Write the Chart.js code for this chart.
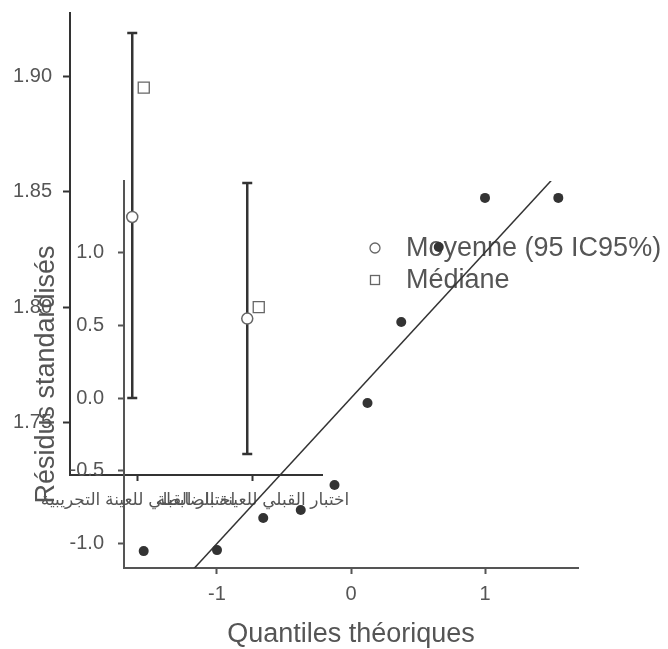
<!DOCTYPE html>
<html>
<head>
<meta charset="utf-8">
<script src="https://cdn.jsdelivr.net/npm/chart.js@4"></script>
<style>
  body { margin: 0; background: #fff; }
  #wrap { position: relative; width: 668px; height: 649px; }
  canvas { position: absolute; left: 0; top: 0; }
</style>
</head>
<body>
<div id="wrap">
  <canvas id="descChart" width="668" height="649"></canvas>
  <canvas id="qqChart" width="668" height="649"></canvas>
</div>
<script>
// descriptive plot (two groups)
const groups = ['اختبار القبلي للعينة التجريبية', 'اختبار القبلي للعينة الضابطة'];
const means = [1.839, 1.795];
const ciLow = [1.7606, 1.7364];
const ciHigh = [1.9186, 1.8537];
const medians = [1.895, 1.800];
const descTicks = [1.75, 1.80, 1.85, 1.90];

// Q-Q plot of residuals
const theoQuantiles = [-1.547, -1.0, -0.655, -0.375, -0.123, 0.123, 0.375, 0.655, 1.0, 1.547];
const stdResiduals = [-1.052, -1.045, -0.825, -0.770, -0.598, -0.034, 0.522, 1.038, 1.375, 1.375];
const qqXTicks = [-1, 0, 1];
const qqYTicks = [-1.0, -0.5, 0.0, 0.5, 1.0];

const FONT = "'Liberation Sans', 'DejaVu Sans', Arial, sans-serif";
const txt = '#555';
const dark = '#333';

Chart.defaults.font.family = FONT;
Chart.defaults.animation = false;

const useTicks = list => scale => { scale.ticks = list.map(v => ({value: v})); };
// fixed axis size, no extra room for edge labels
const fixW = w => s => { s.width = w; s.paddingTop = 0; s.paddingBottom = 0; };
const fixH = h => s => { s.height = h; s.paddingLeft = 0; s.paddingRight = 0; };

const errorBars = {
  id: 'errorBars',
  beforeDatasetsDraw(chart) {
    const {ctx, scales: {x, y}} = chart;
    ctx.save();
    ctx.strokeStyle = dark;
    ctx.lineWidth = 2.5;
    groups.forEach((g, i) => {
      const px = x.getPixelForValue(i + 1 - 0.05);
      const top = y.getPixelForValue(ciHigh[i]);
      const bot = y.getPixelForValue(ciLow[i]);
      ctx.beginPath();
      ctx.moveTo(px, top); ctx.lineTo(px, bot);
      ctx.moveTo(px - 5, top); ctx.lineTo(px + 5, top);
      ctx.moveTo(px - 5, bot); ctx.lineTo(px + 5, bot);
      ctx.stroke();
    });
    ctx.restore();
  }
};

const legendBox = {
  id: 'legendBox',
  afterDraw(chart) {
    const ctx = chart.ctx;
    ctx.save();
    ctx.strokeStyle = '#666';
    ctx.fillStyle = '#fff';
    ctx.lineWidth = 1.3;
    ctx.beginPath();
    ctx.arc(375, 248, 5, 0, Math.PI * 2);
    ctx.fill(); ctx.stroke();
    ctx.fillRect(370.5, 275.5, 9, 9);
    ctx.strokeRect(370.5, 275.5, 9, 9);
    ctx.fillStyle = txt;
    ctx.font = '27px ' + FONT;
    ctx.textBaseline = 'middle';
    ctx.fillText('Moyenne (95 IC95%)', 406, 249);
    ctx.fillText('Médiane', 406, 281);
    ctx.restore();
  }
};

new Chart(document.getElementById('descChart'), {
  type: 'scatter',
  data: {
    datasets: [
      {
        label: 'Moyenne',
        data: means.map((m, i) => ({x: i + 1 - 0.05, y: m})),
        pointStyle: 'circle',
        pointRadius: 5.5,
        pointBackgroundColor: '#fff',
        pointBorderColor: '#666',
        pointBorderWidth: 1.5
      },
      {
        label: 'Médiane',
        data: medians.map((m, i) => ({x: i + 1 + 0.05, y: m})),
        pointStyle: 'rect',
        pointRadius: 7.8,
        pointBackgroundColor: '#fff',
        pointBorderColor: '#666',
        pointBorderWidth: 1.3
      }
    ]
  },
  options: {
    responsive: false,
    layout: { padding: {left: 0, top: 13, right: 346, bottom: 134} },
    plugins: { legend: {display: false}, tooltip: {enabled: false} },
    scales: {
      x: {
        type: 'linear', min: 0.4087, max: 2.6,
        afterFit: fixH(40),
        afterBuildTicks: useTicks([1, 2]),
        grid: { drawOnChartArea: false, tickLength: 6, tickColor: dark, tickWidth: 2 },
        border: { color: dark, width: 2 },
        ticks: {
          autoSkip: false, maxRotation: 0, minRotation: 0,
          padding: 9, color: txt, font: {size: 17},
          callback: v => groups[v - 1] || ''
        }
      },
      y: {
        min: 1.7273, max: 1.9273,
        afterFit: fixW(70),
        afterBuildTicks: useTicks(descTicks),
        grid: { drawOnChartArea: false, tickLength: 7, tickColor: dark, tickWidth: 2 },
        border: { color: dark, width: 2 },
        ticks: {
          padding: 11, color: txt, font: {size: 20},
          callback: v => v.toFixed(2)
        }
      }
    }
  },
  plugins: [errorBars, legendBox]
});

new Chart(document.getElementById('qqChart'), {
  type: 'scatter',
  data: {
    datasets: [
      {
        type: 'line',
        data: [{x: -1.694, y: -1.694}, {x: 1.694, y: 1.694}],
        borderColor: dark,
        borderWidth: 1.5,
        pointRadius: 0
      },
      {
        data: theoQuantiles.map((q, i) => ({x: q, y: stdResiduals[i]})),
        pointRadius: 5,
        pointBackgroundColor: dark,
        pointBorderColor: dark,
        pointBorderWidth: 0
      }
    ]
  },
  options: {
    responsive: false,
    layout: { padding: {left: 0, top: 181, right: 90, bottom: 0} },
    plugins: { legend: {display: false}, tooltip: {enabled: false} },
    scales: {
      x: {
        type: 'linear', min: -1.694, max: 1.694,
        afterFit: fixH(81),
        afterBuildTicks: useTicks(qqXTicks),
        grid: { drawOnChartArea: false, tickLength: 6, tickColor: '#555', tickWidth: 2 },
        border: { color: '#555', width: 2 },
        ticks: { padding: 8, color: txt, font: {size: 20} },
        title: { display: true, text: 'Quantiles théoriques', color: txt, font: {size: 27}, padding: {top: 0, bottom: -2} }
      },
      y: {
        min: -1.168, max: 1.491,
        afterFit: fixW(124),
        afterBuildTicks: useTicks(qqYTicks),
        grid: { drawOnChartArea: false, tickLength: 6, tickColor: '#555', tickWidth: 2 },
        border: { color: '#555', width: 2 },
        ticks: {
          padding: 14, color: txt, font: {size: 20},
          callback: v => v.toFixed(1)
        },
        title: { display: true, text: 'Résidus standardisés', color: txt, font: {size: 27}, padding: {top: 30, bottom: 0} }
      }
    }
  }
});
</script>
</body>
</html>
